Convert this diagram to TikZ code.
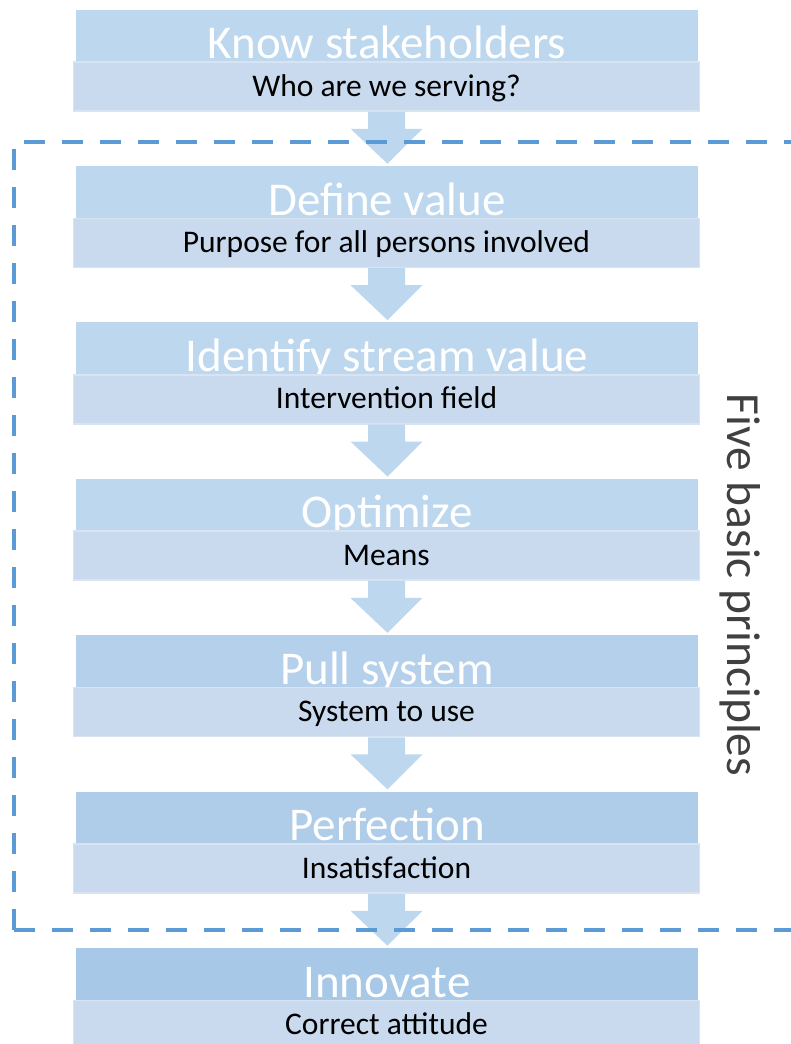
\documentclass[tikz,border=0pt]{standalone}
\usepackage{fontspec}
\setmainfont{Carlito}
\usetikzlibrary{calc}

\definecolor{headA}{HTML}{BDD7EE}
\definecolor{headB}{HTML}{B4D0EB}
\definecolor{headC}{HTML}{AFCCE9}
\definecolor{headD}{HTML}{A7C8E6}
\definecolor{subfill}{HTML}{C9DAEE}
\definecolor{subedge}{HTML}{D9E4F3}
\definecolor{arrowblue}{HTML}{BDD7EE}
\definecolor{frameblue}{HTML}{5B9BD5}
\definecolor{labelgray}{HTML}{404040}

\tikzset{
  headbox/.style={rectangle, fill=#1, minimum width=622pt, minimum height=52.5pt,
    inner sep=0pt, text=white, font=\fontsize{47}{50}\selectfont,
    text height=46pt, text depth=0pt},
  subbox/.style={rectangle, fill=subfill, draw=subedge, line width=1.5pt,
    minimum width=626pt, minimum height=49pt, inner sep=0pt, text=black,
    font=\fontsize{31.5}{34}\selectfont, text height=26pt, text depth=7pt},
  flowarrow/.style={fill=arrowblue},
  framebox/.style={draw=frameblue, line width=4.5pt, dash pattern=on 21pt off 17pt},
  sidelabel/.style={rotate=-90, text=labelgray, font=\fontsize{47.5}{52}\selectfont}
}

\begin{document}
\begin{tikzpicture}[x=1pt,y=-1pt]
\useasboundingbox (0,0) rectangle (790,1044);

% steps: header bar with a white title, subtitle bar underneath
\foreach \i/\col/\htxt/\stxt in {
  1/headA/Know stakeholders/Who are we serving?,
  2/headA/Define value/Purpose for all persons involved,
  3/headA/Identify stream value/Intervention field,
  4/headA/Optimize/Means,
  5/headB/Pull system/System to use,
  6/headC/Perfection/Insatisfaction,
  7/headD/Innovate/Correct attitude}
{
  \pgfmathsetmacro{\top}{9.5+156.4*(\i-1)}
  \node[headbox=\col] (h\i) at (387,\top+26.25) {\htxt};
  \node[subbox] (s\i) at (386.5,\top+77) {\stxt};
}

% block arrows between consecutive steps
\foreach \i [evaluate=\i as \j using int(\i+1)] in {1,...,6}
{
  \fill[flowarrow] ($(s\i.south)+(-18.5,0)$) -- ++(0,17) -- ++(-17.5,0)
    -- ($(h\j.north)+(0.5,-2)$) -- ($(s\i.south)+(36,17)$) -- ++(-17.5,0)
    -- ++(0,-17) -- cycle;
}

% dashed frame open to the right
\draw[framebox] (14,930) -- (14,142) -- (800,142);
\draw[framebox] (14,930) -- (800,930);

\node[sidelabel] (lbl) at (740,585) {Five basic principles};
\end{tikzpicture}
\end{document}
